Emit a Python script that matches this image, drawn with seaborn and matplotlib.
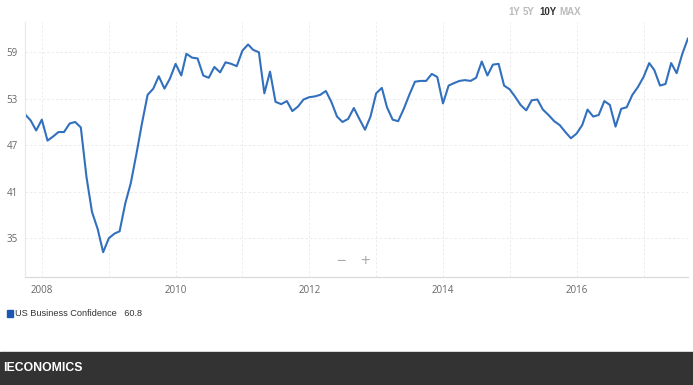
import pandas as pd
import numpy as np
import matplotlib
matplotlib.use('Agg')
import matplotlib.pyplot as plt
import seaborn as sns

# monthly readings, Oct 2007 .. Sep 2017
start = '2007-10-01'
values = [
    51.0, 50.2, 48.9,
    50.3, 47.6, 48.1, 48.7, 48.7, 49.8, 50.0, 49.3, 42.9, 38.4, 36.2, 33.2,
    35.0, 35.6, 35.9, 39.5, 42.1, 45.9, 49.8, 53.5, 54.3, 55.9, 54.3, 55.6,
    57.5, 56.0, 58.8, 58.3, 58.2, 56.0, 55.7, 57.1, 56.4, 57.7, 57.5, 57.2,
    59.2, 60.0, 59.3, 59.0, 53.7, 56.5, 52.6, 52.3, 52.7, 51.4, 52.0, 52.9,
    53.2, 53.3, 53.5, 54.0, 52.6, 50.7, 50.0, 50.4, 51.8, 50.4, 49.0, 50.7,
    53.7, 54.4, 51.9, 50.3, 50.1, 51.7, 53.5, 55.2, 55.3, 55.3, 56.2, 55.8,
    52.4, 54.7, 55.0, 55.3, 55.4, 55.3, 55.7, 57.8, 56.0, 57.4, 57.5, 54.7,
    54.2, 53.2, 52.2, 51.5, 52.8, 52.9, 51.6, 50.9, 50.1, 49.6, 48.7, 47.9,
    48.5, 49.6, 51.6, 50.7, 50.9, 52.7, 52.2, 49.4, 51.7, 51.9, 53.5, 54.5,
    55.8, 57.6, 56.7, 54.7, 54.9, 57.6, 56.3, 58.8, 60.8,
]
series_name = 'US Business Confidence'
last_value = '60.8'
y_ticks = [35, 41, 47, 53, 59]
year_labels = ['2008', '2010', '2012', '2014', '2016']
ranges = ['1Y', '5Y', '10Y', 'MAX']

dates = pd.date_range(start, periods=len(values), freq='MS')
df = pd.DataFrame({'date': dates, 'value': values})

sns.set_style('white')
plt.rcParams['font.family'] = ['Open Sans', 'DejaVu Sans']
label_font = ['Liberation Sans', 'DejaVu Sans']

fig = plt.figure(figsize=(6.93, 3.85), dpi=100)
ax = fig.add_axes([25 / 693, 1 - 277 / 385, 663 / 693, 255 / 385])

sns.lineplot(data=df, x='date', y='value', ax=ax, color='#3270be',
             linewidth=1.5, legend=False, solid_joinstyle='round',
             solid_capstyle='round')

ax.set_xlim(dates[0], dates[-1])
ax.set_ylim(30, 62.9)
ax.set_yticks(y_ticks)
ax.set_yticklabels([str(t) for t in y_ticks])

years = pd.date_range('2008-01-01', '2017-01-01', freq='YS')
ax.set_xticks(years)
ax.set_xticklabels([str(y.year) if str(y.year) in year_labels else ''
                    for y in years])

ax.grid(True, color='#ececec', linestyle=(0, (2.5, 2)), linewidth=0.7)
ax.tick_params(length=0, labelsize=7, colors='#666666')
ax.tick_params(axis='y', pad=5)
ax.tick_params(axis='x', pad=6)
ax.set_xlabel('')
ax.set_ylabel('')
for s in ['top', 'right']:
    ax.spines[s].set_visible(False)
ax.spines['left'].set_color('#e8e8e8')
ax.spines['bottom'].set_color('#d8d8d8')
ax.spines['left'].set_linewidth(0.8)
ax.spines['bottom'].set_linewidth(0.8)

# range selector at top right
xs = [508, 523, 539, 559]
for lab, xp in zip(ranges, xs):
    fig.text(xp / 693, 1 - 12 / 385, lab, fontsize=7, fontweight='bold',
             color='#333333' if lab == '10Y' else '#bbbbbb', va='center',
             ha='left', family=label_font)

# zoom controls
fig.text(341 / 693, 1 - 262 / 385, '\u2212', fontsize=12, color='#aaaaaa',
         ha='center', va='center')
fig.text(365 / 693, 1 - 262 / 385, '+', fontsize=12, color='#aaaaaa',
         ha='center', va='center')

# legend
fig.patches.append(plt.Rectangle((7 / 693, 1 - 317 / 385), 6 / 693, 7 / 385,
                                 transform=fig.transFigure, color='#1b56b0'))
fig.text(15 / 693, 1 - 314 / 385, series_name + '   ' + last_value,
         fontsize=6.6, color='#333333', va='center', ha='left',
         family=label_font)

# footer band
fig.patches.append(plt.Rectangle((0, 0), 1, 33 / 385,
                                 transform=fig.transFigure, color='#333333'))
fig.text(3 / 693, 1 - 368 / 385, 'IECONOMICS', fontsize=8.8,
         fontweight='bold', color='white', va='center', ha='left',
         family=label_font)

fig.savefig('out.png', dpi=100)
